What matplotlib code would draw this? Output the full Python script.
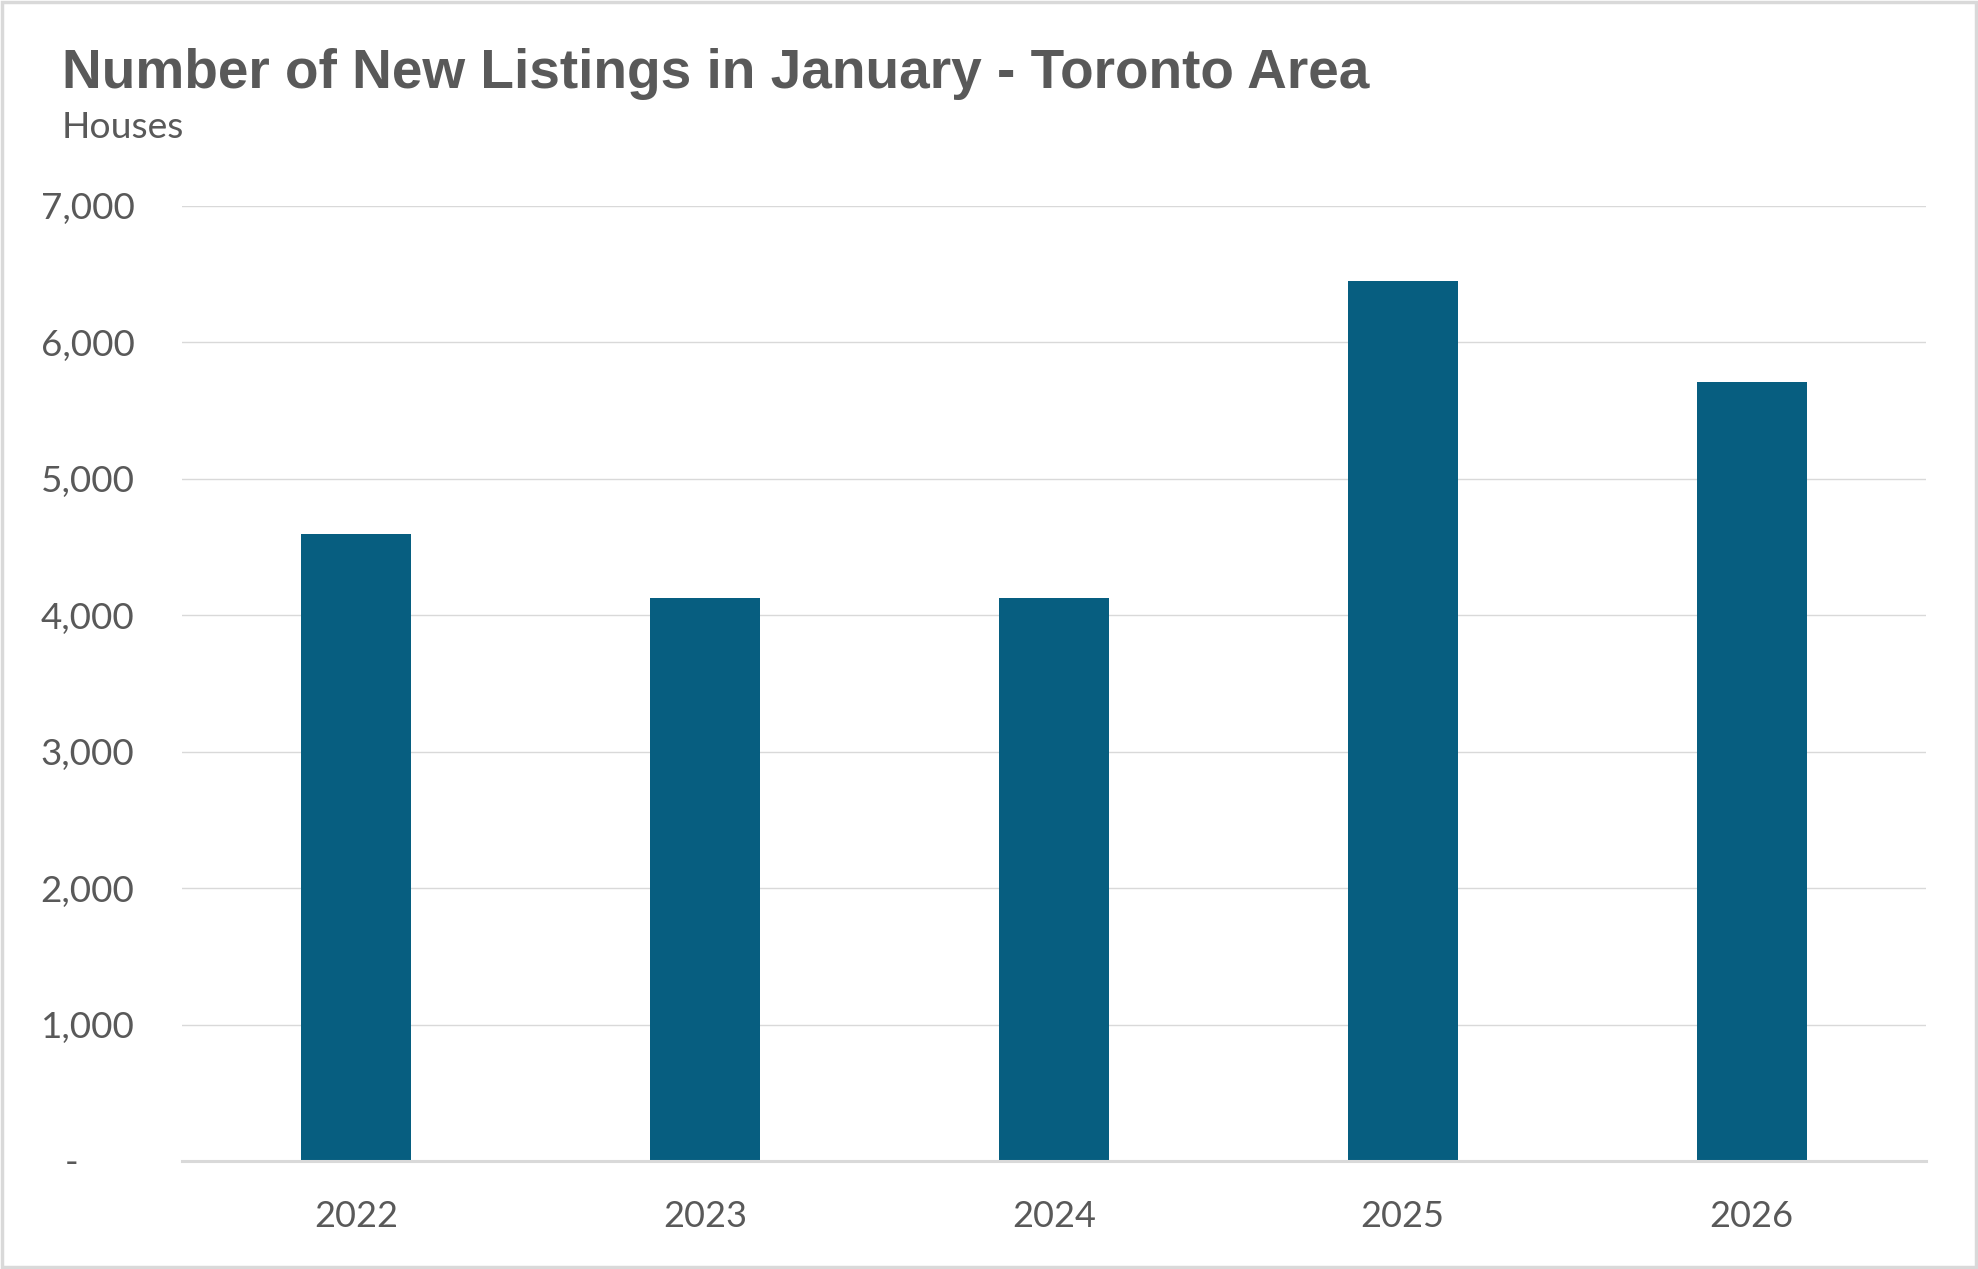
import matplotlib
matplotlib.use("Agg")
import matplotlib.pyplot as plt
from matplotlib.patches import Rectangle
from matplotlib.ticker import FuncFormatter

years = ["2022", "2023", "2024", "2025", "2026"]
new_listings = [4595, 4128, 4128, 6449, 5711]
y_ticks = [0, 1000, 2000, 3000, 4000, 5000, 6000, 7000]

title = "Number of New Listings in January - Toronto Area"
subtitle = "Houses"

bar_color = "#075E80"
text_color = "#595959"
grid_color = "#D9D9D9"

W, H = 1978, 1269
fig = plt.figure(figsize=(W / 100, H / 100), dpi=100)
fig.patch.set_facecolor("white")

left, right = 181.7 / W, 1926 / W
bottom, top = 1 - 1161 / H, 1 - 206 / H
ax = fig.add_axes([left, bottom, right - left, top - bottom])

x = list(range(len(years)))
ax.bar(x, new_listings, width=0.315, color=bar_color, zorder=3)
ax.set_xlim(-0.5, len(years) - 0.5)
ax.set_ylim(0, 7000)
ax.set_yticks(y_ticks)

def fmt(v, pos):
    if v == 0:
        return "-      "
    return f"{int(v):,}"

ax.yaxis.set_major_formatter(FuncFormatter(fmt))
ax.set_xticks(x)
ax.set_xticklabels(years)

for s in ["top", "right", "left"]:
    ax.spines[s].set_visible(False)
ax.spines["bottom"].set_color(grid_color)
ax.spines["bottom"].set_linewidth(2.2)
ax.spines["bottom"].set_zorder(4)

ax.grid(axis="y", color=grid_color, linewidth=1.0, zorder=0)
ax.tick_params(axis="both", length=0, labelcolor=text_color, labelsize=26.5)
ax.tick_params(axis="x", labelsize=26)
ax.tick_params(axis="y", pad=34)
ax.tick_params(axis="x", pad=28)
for lab in ax.get_xticklabels() + ax.get_yticklabels():
    lab.set_fontfamily("Lato")

fig.text(62 / W, 1 - 88 / H, title, fontsize=39.6, fontweight="bold",
         color=text_color, family="Liberation Sans", ha="left", va="baseline")
fig.text(62 / W, 1 - 138 / H, subtitle, fontsize=26.8,
         color=text_color, family="Lato", ha="left", va="baseline")

fig.patches.append(Rectangle((0.0008, 0.0012), 0.9984, 0.9976, transform=fig.transFigure,
                             fill=False, edgecolor=grid_color, linewidth=2.5))

fig.savefig("out.png", dpi=100, facecolor="white")
